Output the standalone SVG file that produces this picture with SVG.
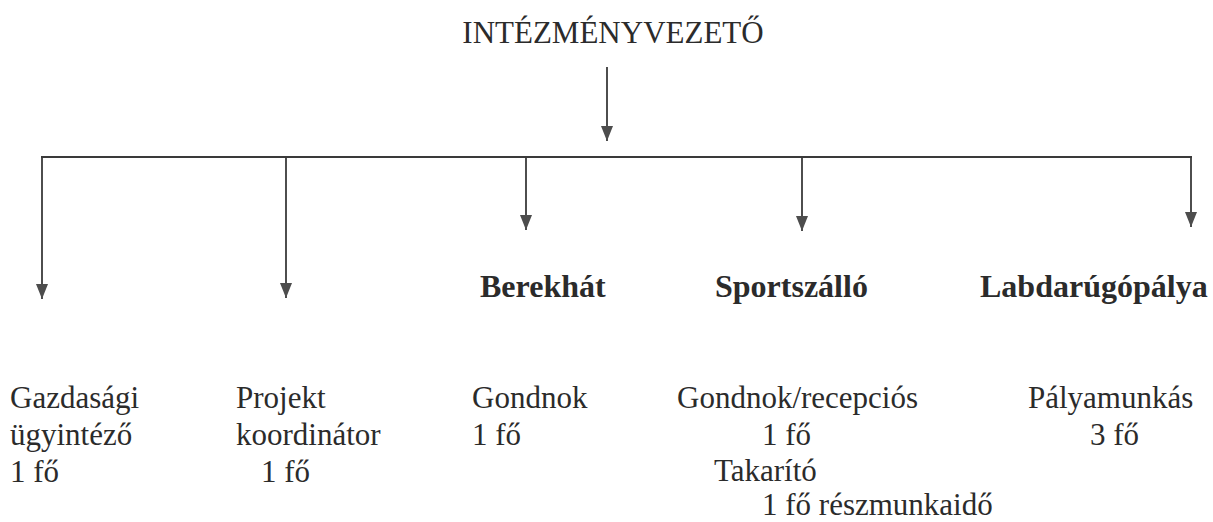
<svg xmlns="http://www.w3.org/2000/svg" width="1213" height="522" viewBox="0 0 1213 522">
  <style>
    .bg { fill: #ffffff; }
    .t { font-family: "Liberation Serif", "Times New Roman", serif; font-size: 31px; fill: #2b2b2b; }
    .b { font-family: "Liberation Serif", "Times New Roman", serif; font-size: 32px; font-weight: bold; fill: #2b2b2b; }
    .title { font-family: "Liberation Serif", "Times New Roman", serif; font-size: 31px; fill: #2b2b2b; }
    .ln { stroke: #3a3a3a; stroke-width: 1.8; fill: none; }
    .bar { stroke: #3a3a3a; stroke-width: 2.2; fill: none; }
    .arr { stroke: #3a3a3a; stroke-width: 1.8; fill: none; marker-end: url(#ah); }
  </style>
  <defs>
    <marker id="ah" markerUnits="userSpaceOnUse" markerWidth="15" markerHeight="12" viewBox="0 0 15 12" refX="15" refY="6" orient="auto">
      <path d="M0,0 L15,6 L0,12 z" fill="#4d4d4d"/>
    </marker>
  </defs>
  <rect class="bg" x="0" y="0" width="1213" height="522"/>

  <g id="connectors">
    <line class="arr" x1="607" y1="67" x2="607" y2="141"/>
    <line class="bar" x1="41" y1="157" x2="1192" y2="157"/>
    <line class="arr" x1="42" y1="157" x2="42" y2="299"/>
    <line class="arr" x1="286" y1="157" x2="286" y2="298"/>
    <line class="arr" x1="526" y1="157" x2="526" y2="230"/>
    <line class="arr" x1="802" y1="157" x2="802" y2="231"/>
    <line class="arr" x1="1191" y1="157" x2="1191" y2="227"/>
  </g>

  <g id="node-intezmenyvezeto">
    <text class="title" x="613" y="43" text-anchor="middle">INTÉZMÉNYVEZETŐ</text>
  </g>

  <g id="node-gazdasagi">
    <text class="t" x="10" y="408">Gazdasági</text>
    <text class="t" x="10" y="445">ügyintéző</text>
    <text class="t" x="10" y="482">1 fő</text>
  </g>

  <g id="node-projekt">
    <text class="t" x="236" y="408">Projekt</text>
    <text class="t" x="236" y="445">koordinátor</text>
    <text class="t" x="261" y="482">1 fő</text>
  </g>

  <g id="node-berekhat">
    <text class="b" x="480" y="297">Berekhát</text>
    <text class="t" x="472" y="408">Gondnok</text>
    <text class="t" x="472" y="445">1 fő</text>
  </g>

  <g id="node-sportszallo">
    <text class="b" x="715" y="297">Sportszálló</text>
    <text class="t" x="677" y="408">Gondnok/recepciós</text>
    <text class="t" x="762" y="445">1 fő</text>
    <text class="t" x="714" y="481">Takarító</text>
    <text class="t" x="762" y="515">1 fő részmunkaidő</text>
  </g>

  <g id="node-labdarugopalya">
    <text class="b" x="980" y="297">Labdarúgópálya</text>
    <text class="t" x="1028" y="408">Pályamunkás</text>
    <text class="t" x="1090" y="445">3 fő</text>
  </g>
</svg>
